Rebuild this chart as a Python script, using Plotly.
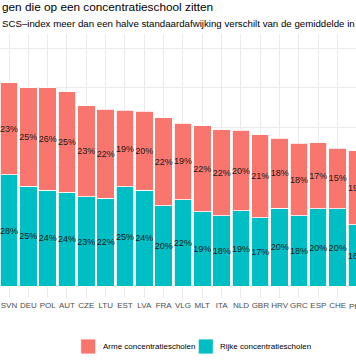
import plotly.graph_objects as go

countries = ["SVN", "DEU", "POL", "AUT", "CZE", "LTU", "EST", "LVA", "FRA", "VLG",
             "MLT", "ITA", "NLD", "GBR", "HRV", "GRC", "ESP", "CHE", "PRT"]
rijk = [28.1, 25.2, 24.2, 23.8, 22.6, 22.2, 25.1, 24.2, 20.3, 21.9,
        18.8, 17.8, 19.1, 17.3, 19.7, 17.8, 19.6, 19.6, 15.6]
arm = [23.2, 24.8, 25.8, 25.3, 22.9, 22.4, 19.3, 19.9, 22.2, 19.2,
       21.75, 21.7, 20.2, 20.9, 17.6, 18.25, 16.6, 15.25, 18.6]

title_text = "gen die op een concentratieschool zitten"
subtitle_text = "SCS\u2013index meer dan een halve standaardafwijking verschilt van de gemiddelde in"
legend_names = ["Arme concentratiescholen", "Rijke concentratiescholen"]

RED = "#F8766D"
TEAL = "#00BFC4"
FONT = "Liberation Sans, Arial, Helvetica, sans-serif"

W, H = 356, 364
ML, MR, MT, MB = 0, 0, 34, 66
PH = H - MT - MB
XRANGE = [-0.4656, 17.951]

def px(x):
    return x / (W - ML - MR)

def py(y):
    return (H - MB - y) / PH

fig = go.Figure()
fig.add_trace(go.Bar(
    x=countries, y=rijk, name=legend_names[1], width=0.9,
    marker=dict(color=TEAL, line=dict(color="white", width=0.8)),
    text=[f"{round(v)}%" for v in rijk], textposition="inside",
    insidetextanchor="middle", textangle=0, constraintext="none",
    textfont=dict(size=9, color="#1a1a1a", family=FONT),
    showlegend=False, hoverinfo="skip",
))
fig.add_trace(go.Bar(
    x=countries, y=arm, name=legend_names[0], width=0.9,
    marker=dict(color=RED, line=dict(color="white", width=0.8)),
    text=[f"{round(v)}%" for v in arm], textposition="inside",
    insidetextanchor="middle", textangle=0, constraintext="none",
    textfont=dict(size=9, color="#1a1a1a", family=FONT),
    showlegend=False, hoverinfo="skip",
))

fig.update_layout(
    width=W, height=H, barmode="stack",
    margin=dict(l=ML, r=MR, t=MT, b=MB, autoexpand=False),
    paper_bgcolor="white", plot_bgcolor="white",
    font=dict(family=FONT),
)
fig.update_xaxes(
    type="category", categoryorder="array", categoryarray=countries,
    range=XRANGE, autorange=False, showgrid=True, gridcolor="#EBEBEB", gridwidth=1,
    showline=False, zeroline=False, ticks="", ticklabelstandoff=1, tickangle=0,
    automargin=False,
    tickfont=dict(size=8, color="#4D4D4D", family=FONT),
)
fig.update_yaxes(
    range=[-2.9, 63.6], autorange=False, dtick=10, tick0=0, showgrid=True, gridcolor="#EBEBEB",
    gridwidth=1, showticklabels=False, zeroline=False, showline=False, ticks="",
    automargin=False,
)

# the last category's label sits just past the axis range (cut by the edge, as in the source crop)
last_idx = len(countries) - 1
last_x_paper = (last_idx - XRANGE[0]) / (XRANGE[1] - XRANGE[0])

annotations = [
    dict(text=title_text, x=px(0), y=py(7.2), xref="paper", yref="paper",
         xanchor="left", yanchor="middle", showarrow=False,
         font=dict(size=11.8, color="black", family=FONT)),
    dict(text=subtitle_text, x=px(0), y=py(23.6), xref="paper", yref="paper",
         xanchor="left", yanchor="middle", showarrow=False,
         font=dict(size=9.7, color="black", family=FONT)),
    dict(text=legend_names[0], x=px(100.7), y=py(346.5), xref="paper", yref="paper",
         xanchor="left", yanchor="middle", showarrow=False,
         font=dict(size=8, color="black", family=FONT)),
    dict(text=legend_names[1], x=px(218.3), y=py(346.5), xref="paper", yref="paper",
         xanchor="left", yanchor="middle", showarrow=False,
         font=dict(size=8, color="black", family=FONT)),
    dict(text=countries[-1], x=last_x_paper, xref="paper", y=py(306.7), yref="paper",
         xanchor="center", yanchor="middle", showarrow=False,
         font=dict(size=8, color="#4D4D4D", family=FONT)),
]
shapes = [
    dict(type="rect", xref="paper", yref="paper", x0=px(80.7), x1=px(95.7),
         y0=py(354), y1=py(339), fillcolor=RED, line=dict(color="white", width=0.8)),
    dict(type="rect", xref="paper", yref="paper", x0=px(198.3), x1=px(213.3),
         y0=py(354), y1=py(339), fillcolor=TEAL, line=dict(color="white", width=0.8)),
]
fig.update_layout(annotations=annotations, shapes=shapes)

fig.write_html(
    "out.html",
    config={"displayModeBar": False, "staticPlot": True},
    post_script="document.body.style.margin='0';document.body.style.overflow='hidden';",
)
